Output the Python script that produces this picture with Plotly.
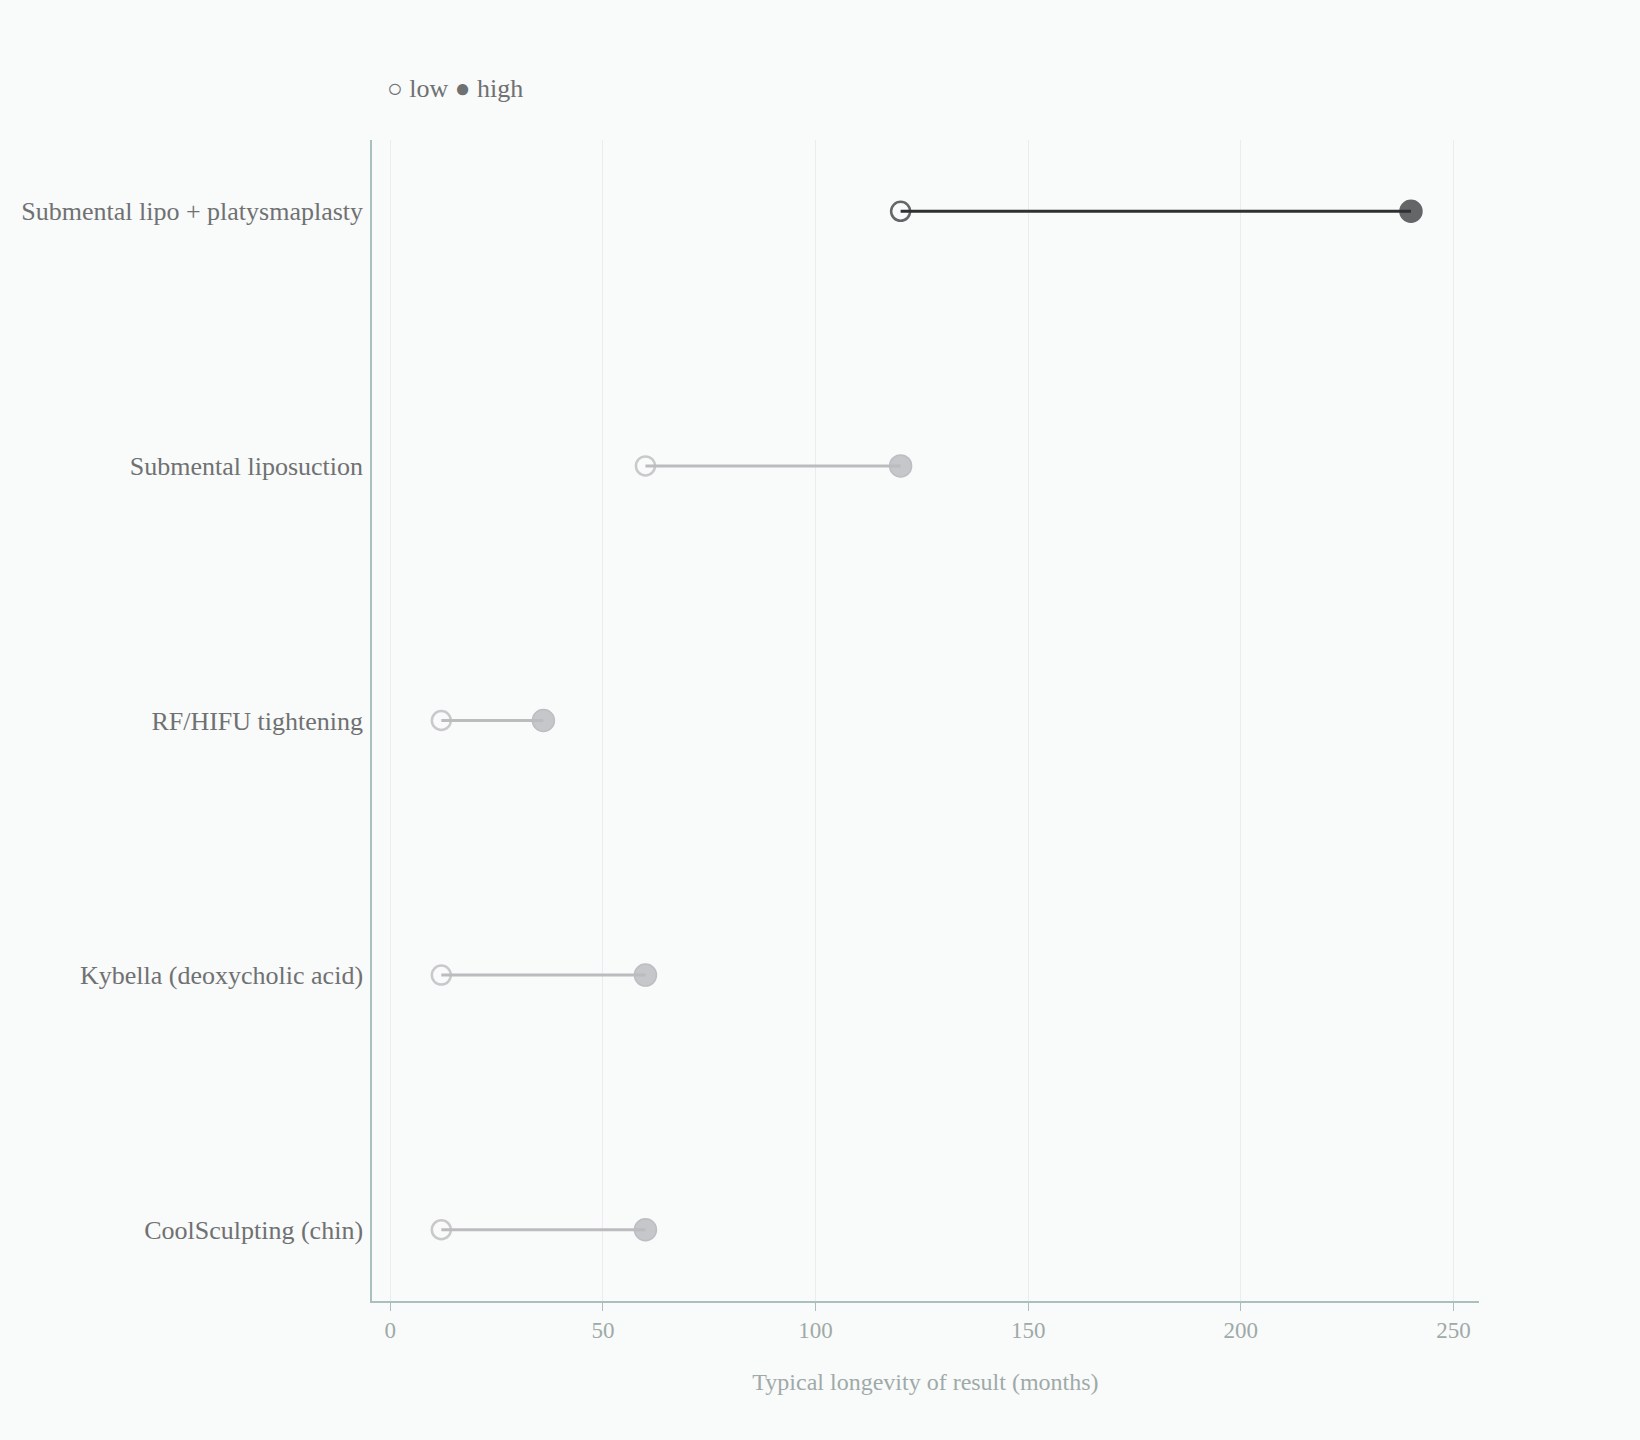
"""Dumbbell chart: typical longevity of submental treatments."""

import plotly.graph_objects as go

procedures = [
    "CoolSculpting (chin)",
    "Kybella (deoxycholic acid)",
    "RF/HIFU tightening",
    "Submental liposuction",
    "Submental lipo + platysmaplasty",
]
low_months = [12, 12, 12, 60, 120]
high_months = [60, 60, 36, 120, 240]
highlight = "Submental lipo + platysmaplasty"

FONT = "Liberation Serif, Times New Roman, serif"
BG = "#f9fafa"
DARK_LINE = "#2e3032"
DARK_MARK = "#646668"
GREY_LINE = "#bcbcbe"
GREY_MARK = "#c6c7ca"
GREY_RING = "#c9c9cb"
AXIS = "#a9c0bc"
TICK_TEXT = "#9eaaa8"
LABEL_TEXT = "#6f7172"

fig = go.Figure()

low_colors = [DARK_MARK if p == highlight else GREY_RING for p in procedures]
high_colors = [DARK_MARK if p == highlight else GREY_MARK for p in procedures]
high_lines = [DARK_MARK if p == highlight else "#bdbec1" for p in procedures]

# Markers first, segments drawn on top of them
fig.add_trace(
    go.Scatter(
        x=low_months,
        y=procedures,
        mode="markers",
        name="low",
        marker={
            "size": 19,
            "color": BG,
            "line": {"color": low_colors, "width": 2.5},
        },
        showlegend=False,
        hovertemplate="%{y}<br>Low: %{x} months<extra></extra>",
    ),
)
fig.add_trace(
    go.Scatter(
        x=high_months,
        y=procedures,
        mode="markers",
        name="high",
        marker={
            "size": 22,
            "color": high_colors,
            "line": {"color": high_lines, "width": 1.5},
        },
        showlegend=False,
        hovertemplate="%{y}<br>High: %{x} months<extra></extra>",
    ),
)

for proc, lo, hi in zip(procedures, low_months, high_months):
    fig.add_trace(
        go.Scatter(
            x=[lo, hi],
            y=[proc, proc],
            mode="lines",
            line={"color": DARK_LINE if proc == highlight else GREY_LINE, "width": 3},
            showlegend=False,
            hoverinfo="skip",
        ),
    )

fig.add_annotation(
    text="○ low ● high",
    xref="paper",
    yref="paper",
    x=0.012,
    y=1.044,
    xanchor="left",
    yanchor="middle",
    showarrow=False,
    font={"family": FONT, "size": 26, "color": LABEL_TEXT},
)

fig.update_layout(
    width=1640,
    height=1440,
    margin={"l": 372, "r": 161, "t": 140, "b": 139},
    paper_bgcolor=BG,
    plot_bgcolor=BG,
    font={"family": FONT, "size": 26, "color": LABEL_TEXT},
    showlegend=False,
)

fig.update_xaxes(
    range=[-4.3, 256],
    tickvals=[0, 50, 100, 150, 200, 250],
    showgrid=True,
    gridcolor="#ececee",
    gridwidth=1,
    zeroline=False,
    showline=True,
    linecolor=AXIS,
    linewidth=1.5,
    ticks="outside",
    ticklen=8,
    tickcolor=AXIS,
    tickfont={"family": FONT, "size": 23, "color": TICK_TEXT},
    title={
        "text": "Typical longevity of result (months)",
        "font": {"family": FONT, "size": 24, "color": TICK_TEXT},
        "standoff": 31,
    },
)
fig.update_yaxes(
    categoryorder="array",
    categoryarray=procedures,
    range=[-0.28, 4.28],
    showgrid=False,
    zeroline=False,
    showline=True,
    linecolor=AXIS,
    linewidth=1.5,
    ticks="",
    ticklabelstandoff=2,
    tickfont={"family": FONT, "size": 26, "color": LABEL_TEXT},
)

fig.write_html(
    "out.html",
    config={"displayModeBar": False},
    post_script=f"document.body.style.margin='0';document.body.style.background='{BG}';",
)
